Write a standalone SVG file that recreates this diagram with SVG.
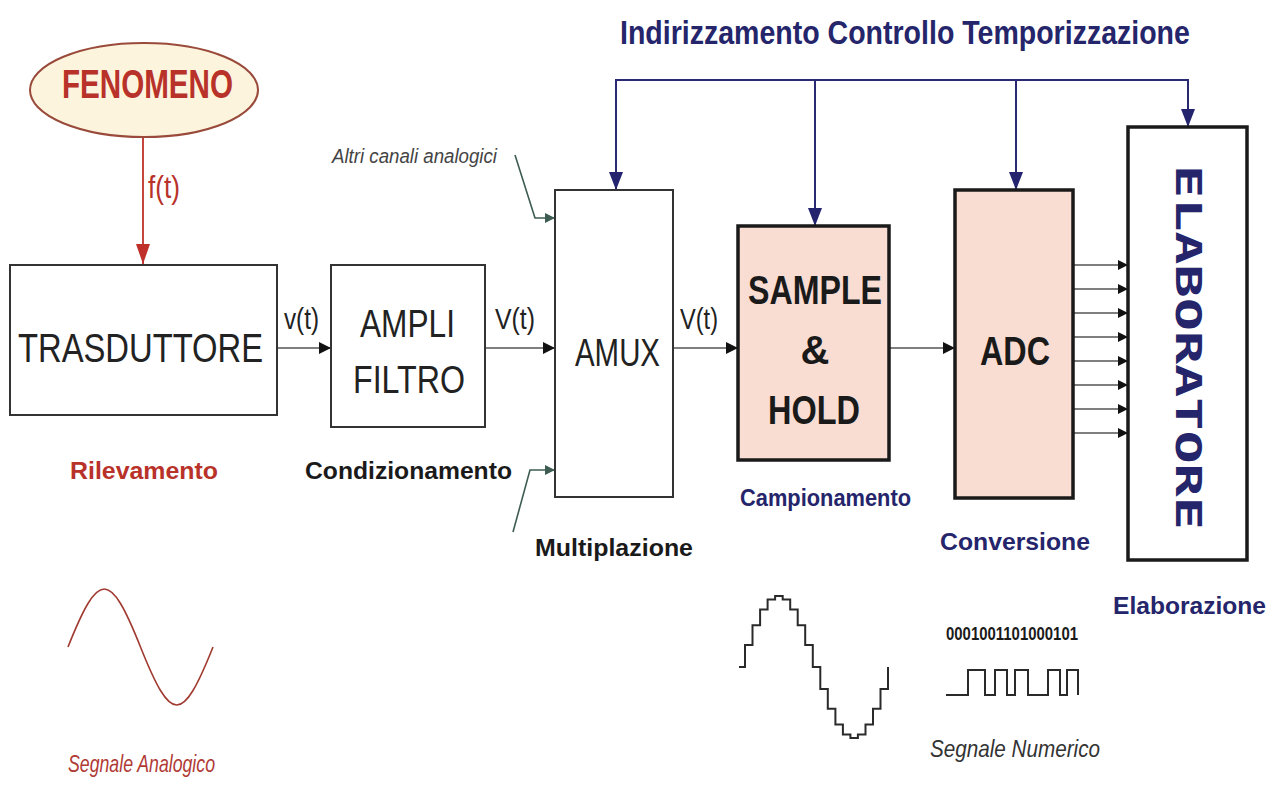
<svg xmlns="http://www.w3.org/2000/svg" width="1279" height="810" viewBox="0 0 1279 810">
<defs>
<marker id="mBlack" markerUnits="userSpaceOnUse" markerWidth="12" markerHeight="12" refX="12" refY="6" orient="auto"><path d="M0,0 L12,6 L0,12 z" fill="#111"/></marker>
<marker id="mSmall" markerUnits="userSpaceOnUse" markerWidth="10" markerHeight="10" refX="10" refY="5" orient="auto"><path d="M0,0 L10,5 L0,10 z" fill="#111"/></marker>
<marker id="mNavy" markerUnits="userSpaceOnUse" markerWidth="18" markerHeight="14" refX="18" refY="7" orient="auto"><path d="M0,0 L18,7 L0,14 z" fill="#24246e"/></marker>
<marker id="mRed" markerUnits="userSpaceOnUse" markerWidth="20" markerHeight="14" refX="20" refY="7" orient="auto"><path d="M0,0 L20,7 L0,14 z" fill="#c0302a"/></marker>
<marker id="mGreen" markerUnits="userSpaceOnUse" markerWidth="10" markerHeight="10" refX="10" refY="5" orient="auto"><path d="M0,0 L10,5 L0,10 z" fill="#3d5c52"/></marker>
</defs>
<style>
.box{fill:#fff;stroke:#333;stroke-width:2}
.pbox{fill:#f9ddd3;stroke:#1a1a1a;stroke-width:3.5}
.ebox{fill:#fff;stroke:#1a1a1a;stroke-width:3.5}
.t{font-family:"Liberation Sans Narrow","Liberation Sans",Arial,sans-serif}
.reg{font-weight:400;fill:#222}
.b{font-weight:700}
.k{fill:#1a1a1a}
.navy{fill:#25256b}
.red{fill:#b8322a}
.it{font-style:italic;font-weight:400}
.wire{stroke:#555;stroke-width:1.6;fill:none}
.ctrl{stroke:#2a2a72;stroke-width:2;fill:none}
.grn{stroke:#3d5c52;stroke-width:1.6;fill:none}
.sig{stroke:#2a2a2a;stroke-width:2;fill:none}
</style>
<rect x="0" y="0" width="1279" height="810" fill="#fff"/>

<text class="t b navy" font-size="34" transform="translate(620,44) scale(0.813,1)" x="0" y="0" textLength="701" lengthAdjust="spacingAndGlyphs">Indirizzamento  Controllo  Temporizzazione</text>

<g id="connectors">
  <line class="ctrl" x1="615" y1="80" x2="1189" y2="80"/>
  <line class="ctrl" x1="616" y1="80" x2="616" y2="190" marker-end="url(#mNavy)"/>
  <line class="ctrl" x1="815" y1="80" x2="815" y2="226" marker-end="url(#mNavy)"/>
  <line class="ctrl" x1="1016" y1="80" x2="1016" y2="190" marker-end="url(#mNavy)"/>
  <line class="ctrl" x1="1188" y1="80" x2="1188" y2="127" marker-end="url(#mNavy)"/>
  <line x1="143" y1="137" x2="143" y2="264" stroke="#c0302a" stroke-width="1.8" marker-end="url(#mRed)"/>
  <line class="wire" x1="277" y1="348" x2="331" y2="348" marker-end="url(#mBlack)"/>
  <line class="wire" x1="485" y1="348" x2="555" y2="348" marker-end="url(#mBlack)"/>
  <line class="wire" x1="673" y1="348" x2="738" y2="348" marker-end="url(#mBlack)"/>
  <line class="wire" x1="889" y1="348" x2="955" y2="348" marker-end="url(#mBlack)"/>
  <polyline class="grn" points="515,155 535,218 555,218" marker-end="url(#mGreen)"/>
  <polyline class="grn" points="513,532 530,470 555,470" marker-end="url(#mGreen)"/>
  <g class="wire">
    <line x1="1073" y1="265" x2="1128" y2="265" marker-end="url(#mSmall)"/>
    <line x1="1073" y1="289" x2="1128" y2="289" marker-end="url(#mSmall)"/>
    <line x1="1073" y1="313" x2="1128" y2="313" marker-end="url(#mSmall)"/>
    <line x1="1073" y1="337" x2="1128" y2="337" marker-end="url(#mSmall)"/>
    <line x1="1073" y1="361" x2="1128" y2="361" marker-end="url(#mSmall)"/>
    <line x1="1073" y1="385" x2="1128" y2="385" marker-end="url(#mSmall)"/>
    <line x1="1073" y1="409" x2="1128" y2="409" marker-end="url(#mSmall)"/>
    <line x1="1073" y1="433" x2="1128" y2="433" marker-end="url(#mSmall)"/>
  </g>
  <text class="t red" x="148" y="198" font-size="32" textLength="32" lengthAdjust="spacingAndGlyphs">f(t)</text>
  <text class="t reg" x="284" y="329" font-size="30" textLength="35" lengthAdjust="spacingAndGlyphs">v(t)</text>
  <text class="t reg" x="495" y="329" font-size="30" textLength="40" lengthAdjust="spacingAndGlyphs">V(t)</text>
  <text class="t reg" x="680" y="329" font-size="30" textLength="38" lengthAdjust="spacingAndGlyphs">V(t)</text>
  <text class="t it" x="332" y="163" font-size="20" fill="#444" textLength="165" lengthAdjust="spacingAndGlyphs">Altri canali analogici</text>
</g>

<g id="fenomeno">
  <ellipse cx="144" cy="90" rx="114" ry="47" fill="#fdf4dd" stroke="#9a4a3a" stroke-width="2"/>
  <text class="t b red" x="62" y="98" font-size="40" textLength="171" lengthAdjust="spacingAndGlyphs">FENOMENO</text>
</g>

<g id="trasduttore">
  <rect class="box" x="10" y="265" width="267" height="150"/>
  <text class="t reg" font-size="40" transform="translate(18,362) scale(0.817,1)" x="0" y="0" textLength="300" lengthAdjust="spacingAndGlyphs">TRASDUTTORE</text>
  <text class="t b red" x="70" y="479" font-size="24" textLength="148" lengthAdjust="spacingAndGlyphs">Rilevamento</text>
</g>

<g id="ampli">
  <rect class="box" x="331" y="265" width="154" height="162"/>
  <text class="t reg" x="360" y="337" font-size="38" textLength="95" lengthAdjust="spacingAndGlyphs">AMPLI</text>
  <text class="t reg" x="353" y="393" font-size="38" textLength="112" lengthAdjust="spacingAndGlyphs">FILTRO</text>
  <text class="t b k" x="305" y="479" font-size="24" textLength="207" lengthAdjust="spacingAndGlyphs">Condizionamento</text>
</g>

<g id="amux">
  <rect class="box" x="555" y="190" width="118" height="307"/>
  <text class="t reg" x="575" y="366" font-size="38" textLength="85" lengthAdjust="spacingAndGlyphs">AMUX</text>
  <text class="t b k" x="535" y="556" font-size="24" textLength="158" lengthAdjust="spacingAndGlyphs">Multiplazione</text>
</g>

<g id="samplehold">
  <rect class="pbox" x="738" y="226" width="151" height="234"/>
  <text class="t b k" x="748" y="304" font-size="40" textLength="134" lengthAdjust="spacingAndGlyphs">SAMPLE</text>
  <text class="t b k" x="815" y="364" font-size="40" text-anchor="middle">&amp;</text>
  <text class="t b k" x="768" y="424" font-size="40" textLength="92" lengthAdjust="spacingAndGlyphs">HOLD</text>
  <text class="t b navy" x="740" y="506" font-size="24" textLength="171" lengthAdjust="spacingAndGlyphs">Campionamento</text>
</g>

<g id="adc">
  <rect class="pbox" x="955" y="190" width="118" height="308"/>
  <text class="t b k" x="980" y="365" font-size="40" textLength="70" lengthAdjust="spacingAndGlyphs">ADC</text>
  <text class="t b navy" x="940" y="550" font-size="24" textLength="150" lengthAdjust="spacingAndGlyphs">Conversione</text>
</g>

<g id="elaboratore">
  <rect class="ebox" x="1128" y="127" width="119" height="433"/>
  <text font-family="'DejaVu Sans Mono','Liberation Mono',monospace" font-weight="700" class="navy" font-size="36" transform="translate(1176,165) rotate(90)" x="0" y="0" textLength="365" lengthAdjust="spacingAndGlyphs">ELABORATORE</text>
  <text class="t b navy" x="1113" y="614" font-size="24" textLength="153" lengthAdjust="spacingAndGlyphs">Elaborazione</text>
</g>

<g id="segnale-analogico">
  <path d="M68,647 C98.8,569.7 109.7,569.7 140.5,647 C171.3,724.3 182.2,724.3 213,647" fill="none" stroke="#a03a30" stroke-width="1.6"/>
  <text class="t it" x="68" y="772" font-size="24" fill="#b03a35" textLength="147" lengthAdjust="spacingAndGlyphs">Segnale Analogico</text>
</g>

<g id="segnale-campionato">
  <path class="sig" d="M739,667 H745 V645 H752.5 V625.3 H760.1 V609.6 H767.6 V599.5 H775.1 V596 H782.7 V599.5 H790.2 V609.6 H797.7 V625.3 H805.2 V645 H812.8 V667 H820.3 V689 H827.8 V708.7 H835.4 V724.4 H842.9 V734.5 H850.4 V738 H857.9 V734.5 H865.5 V724.4 H873 V708.7 H880.5 V689 H888 V667"/>
</g>

<g id="segnale-numerico">
  <text class="t b k" x="946" y="640" font-size="19" textLength="132" lengthAdjust="spacingAndGlyphs">0001001101000101</text>
  <path class="sig" d="M946,695 H968 V670 H985 V695 H995 V670 H1007 V695 H1015 V670 H1028 V695 H1048 V670 H1060 V695 H1067 V670 H1078 V695"/>
  <text class="t it" x="930" y="757" font-size="24" fill="#333" textLength="170" lengthAdjust="spacingAndGlyphs">Segnale Numerico</text>
</g>
</svg>
